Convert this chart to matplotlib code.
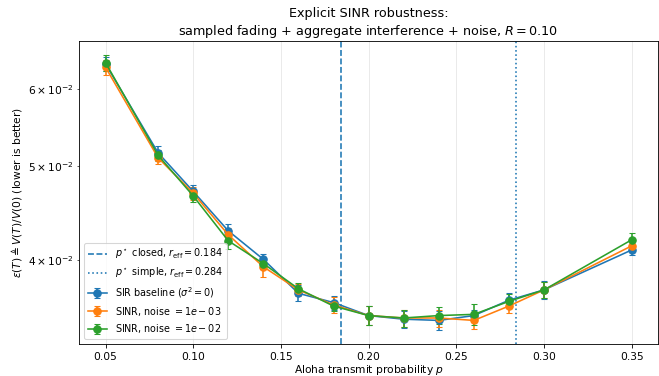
import matplotlib
matplotlib.use("Agg")
import matplotlib.pyplot as plt

# Aloha transmit probabilities
p_values = [0.05, 0.08, 0.10, 0.12, 0.14, 0.16, 0.18, 0.20, 0.22, 0.24, 0.26, 0.28, 0.30, 0.35]

# epsilon(T) means and error bars for each setting
sir_mean = [0.0637, 0.0516, 0.0471, 0.0429, 0.0401, 0.0370, 0.0362, 0.0351, 0.0348, 0.0347, 0.0351, 0.0364, 0.0373, 0.0410]
sir_err = [0.0010, 0.0008, 0.0007, 0.0007, 0.0005, 0.0007, 0.0006, 0.0008, 0.0007, 0.0008, 0.0005, 0.0006, 0.0008, 0.0005]

n3_mean = [0.0632, 0.0510, 0.0469, 0.0425, 0.0394, 0.0373, 0.0360, 0.0351, 0.0349, 0.0349, 0.0347, 0.0359, 0.0373, 0.0414]
n3_err = [0.0011, 0.0008, 0.0007, 0.0007, 0.0009, 0.0005, 0.0007, 0.0008, 0.0007, 0.0007, 0.0007, 0.0006, 0.0007, 0.0006]

n2_mean = [0.0639, 0.0513, 0.0466, 0.0419, 0.0397, 0.0374, 0.0359, 0.0351, 0.0349, 0.0351, 0.0352, 0.0363, 0.0373, 0.0420]
n2_err = [0.0012, 0.0007, 0.0007, 0.0008, 0.0005, 0.0005, 0.0004, 0.0008, 0.0007, 0.0007, 0.0009, 0.0006, 0.0007, 0.0007]

p_closed = 0.184
p_simple = 0.284

# bigger figure at a lower dpi so default font sizes come out like the reference
fig, ax = plt.subplots(figsize=(8.6, 4.9), dpi=76.74)

ax.axvline(p_closed, color="C0", linestyle="--",
           label=r"$p^\star$ closed, $r_{\rm eff}=0.184$")
ax.axvline(p_simple, color="C0", linestyle=":",
           label=r"$p^\star$ simple, $r_{\rm eff}=0.284$")

ax.errorbar(p_values, sir_mean, yerr=sir_err, marker="o", markersize=7, capsize=3,
            color="C0", label=r"SIR baseline ($\sigma^2=0$)")
ax.errorbar(p_values, n3_mean, yerr=n3_err, marker="o", markersize=7, capsize=3,
            color="C1", label=r"SINR, noise $=1e-03$")
ax.errorbar(p_values, n2_mean, yerr=n2_err, marker="o", markersize=7, capsize=3,
            color="C2", label=r"SINR, noise $=1e-02$")

ax.set_yscale("log")
ax.set_xlabel(r"Aloha transmit probability $p$", labelpad=1.5)
ax.set_ylabel(r"$\varepsilon(T) \triangleq V(T)/V(0)$ (lower is better)")
ax.set_title("Explicit SINR robustness:\nsampled fading + aggregate interference + noise, $R=0.10$")
ax.grid(True, alpha=0.3)
ax.legend(loc="lower left", fontsize=9)

plt.subplots_adjust(left=0.12, right=0.997, top=0.891, bottom=0.085)
plt.savefig("out.png", dpi=76.74)
